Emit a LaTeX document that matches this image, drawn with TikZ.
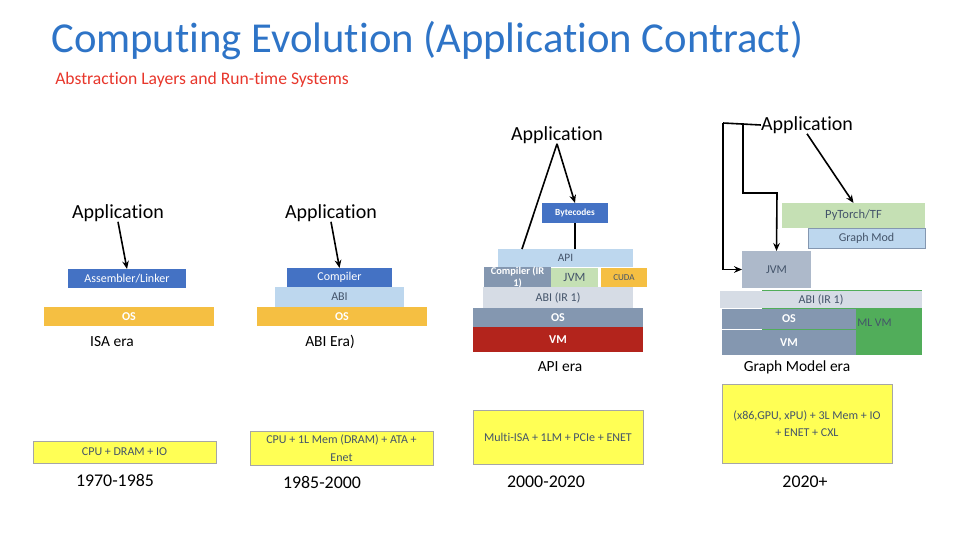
\documentclass[tikz,border=0pt]{standalone}
\usepackage{fontspec}
\setmainfont{Carlito}[Ligatures=NoCommon]
\usetikzlibrary{arrows.meta}
\newcommand\tiX{t\kern0pt i}
\definecolor{tblue}{HTML}{2E74C7}
\definecolor{tred}{HTML}{E8372C}
\definecolor{dblue}{HTML}{4472C4}
\definecolor{gold}{HTML}{F5BF42}
\definecolor{lblue}{HTML}{BDD7EE}
\definecolor{sgray}{HTML}{8497B0}
\definecolor{lgray}{HTML}{D6DCE5}
\definecolor{lgreen}{HTML}{C5E0B4}
\definecolor{vmred}{HTML}{B3241C}
\definecolor{jgray}{HTML}{ADB9CA}
\definecolor{mlgreen}{HTML}{51AD5A}
\definecolor{hwyellow}{HTML}{FFFF55}
\definecolor{dtext}{HTML}{44546A}
\newcommand\blk[7]{\node[lay,#6,minimum width={(#4-#2)*0.75pt},minimum height={(#5-#3)*0.75pt}] (#1) at ({(#2+#4)/2},{(#3+#5)/2}) {#7};}
\tikzset{
  lay/.style={inner sep=0pt,outer sep=0pt,align=center,font=\fontsize{9}{10}\selectfont,text=dtext},
  wtxt/.style={text=white,font=\fontsize{9}{10}\selectfont\bfseries},
  hw/.style={fill=hwyellow,draw=black!35,line width=0.6pt,font=\fontsize{9}{13}\selectfont},
  applbl/.style={inner sep=0pt,font=\fontsize{15}{16}\selectfont},
  eralbl/.style={inner sep=0pt,font=\fontsize{11.6}{13}\selectfont},
  yearlbl/.style={inner sep=0pt,font=\fontsize{13.4}{15}\selectfont},
  arr/.style={line width=1.2pt,-{Stealth[length=6pt,width=5pt]}},
  ln/.style={line width=1.2pt}
}
\begin{document}
\begin{tikzpicture}[x=0.75pt,y=-0.75pt]
\useasboundingbox[fill=white] (0,0) rectangle (960,540);
% titles
\node[anchor=base west,inner sep=0pt,text=tblue,font=\fontsize{32}{36}\selectfont] (title) at (51,52) {Compu\tiX ng Evolu\tiX on (Applica\tiX on Contract)};
\node[anchor=base west,inner sep=0pt,text=tred,font=\fontsize{13.2}{15}\selectfont] (sub) at (55,84) {Abstrac\tiX on Layers and Run-\tiX me Systems};

% ---------- ISA era
\node[applbl] (app1) at (118,213) {Applica\tiX on};
\blk{asm}{68}{269}{186}{288}{fill=dblue,wtxt,font=\fontsize{9}{10}\selectfont}{Assembler/Linker}
\blk{os1}{44}{307}{214}{326}{fill=gold,wtxt}{OS}
\node[eralbl] (era1) at (112,342) {ISA era};
\draw[arr] (app1.south) -- (asm.north);
\blk{hw1}{33}{441}{216}{463}{hw}{CPU + DRAM + IO}
\node[yearlbl] (y1) at (115,480) {1970-1985};

% ---------- ABI era
\node[applbl] (app2) at (331,213) {Applica\tiX on};
\blk{comp2}{287}{268}{392}{287}{fill=dblue,wtxt,font=\fontsize{9}{10}\selectfont}{Compiler}
\blk{abi2}{275}{287}{404}{307}{fill=lblue}{ABI}
\blk{os2}{257}{307}{427}{326}{fill=gold,wtxt}{OS}
\node[eralbl] (era2) at (330,342) {ABI Era)};
\draw[arr] (app2.south) -- (comp2.north);
\blk{hw2}{250}{431}{433}{465}{hw}{CPU + 1L Mem (DRAM) + ATA +\\Enet}
\node[yearlbl] (y2) at (322,482) {1985-2000};

% ---------- API era
\node[applbl] (app3) at (557,135) {Applica\tiX on};
\blk{byte}{542}{203}{608}{223}{fill=dblue,wtxt,font=\fontsize{7}{8}\selectfont\bfseries}{Bytecodes}
\blk{api}{498}{249}{633}{267}{fill=lblue,font=\fontsize{8.5}{10}\selectfont}{API}
\blk{comp3}{484}{268}{551}{287}{fill=sgray,wtxt,font=\fontsize{7.8}{8.4}\selectfont\bfseries}{Compiler (IR\\1)}
\blk{jvm3}{551}{268}{598}{287}{fill=lgreen,font=\fontsize{9.5}{10}\selectfont}{JVM}
\blk{cuda}{601}{268}{647}{287}{fill=gold,font=\fontsize{6.8}{8}\selectfont}{CUDA}
\blk{abi3}{483}{287}{633}{308}{fill=lgray}{ABI (IR 1)}
\blk{os3}{473}{308}{643}{327}{fill=sgray,wtxt}{OS}
\blk{vm3}{473}{327}{643}{352}{fill=vmred,wtxt}{VM}
\node[eralbl] (era3) at (560,367) {API era};
\coordinate (apil) at (522,249);
\draw[ln] (app3.south) -- (apil);
\draw[arr] (app3.south) -- (byte.north);
\draw[ln] (byte.south) -- (byte.south |- api.north);
\blk{hw3}{473}{410}{643}{464}{hw}{Multi-ISA + 1LM + PCIe + ENET}
\node[yearlbl] (y3) at (546,482) {2000-2020};

% ---------- Graph Model era
\node[applbl] (app4) at (807,125) {Applica\tiX on};
\blk{pyt}{782}{203}{925}{228}{fill=lgreen,font=\fontsize{9.4}{10}\selectfont}{PyTorch/TF}
\blk{gmod}{808}{228}{925}{248}{fill=lblue,draw=sgray,line width=0.6pt}{Graph Mod}
\blk{jvm4}{742}{251}{811}{288}{fill=jgray}{JVM}
\blk{mlvm}{762}{290}{922}{355}{fill=mlgreen}{}
\blk{abi4}{720}{291}{922}{308}{fill=lgray}{ABI (IR 1)}
\blk{os4}{722}{309}{856}{329}{fill=sgray,wtxt}{OS}
\blk{vm4}{722}{330}{856}{355}{fill=sgray,wtxt}{VM}
\node[inner sep=0pt,anchor=west,text=dtext,font=\fontsize{8.8}{10}\selectfont] (mltxt) at (857,323) {ML VM};
\node[eralbl] (era4) at (797,367) {Graph Model era};
\coordinate (g1) at (723,123);
\coordinate (g2) at (743,123);
\coordinate (g3) at (743,193);
\coordinate (g4) at (777,193);
\draw[ln] (app4.west) -- (g1);
\draw[arr] (g1) -- (g1 |- jvm4.west) -- (jvm4.west);
\draw[arr] (g2) -- (g3) -- (g4) -- (jvm4.north);
\draw[arr] (app4.south) -- (pyt.north);
\blk{hw4}{722}{384}{892}{463}{hw}{(x86,GPU, xPU) + 3L Mem + IO\\+ ENET + CXL}
\node[yearlbl] (y4) at (805,482) {2020+};
\end{tikzpicture}
\end{document}
